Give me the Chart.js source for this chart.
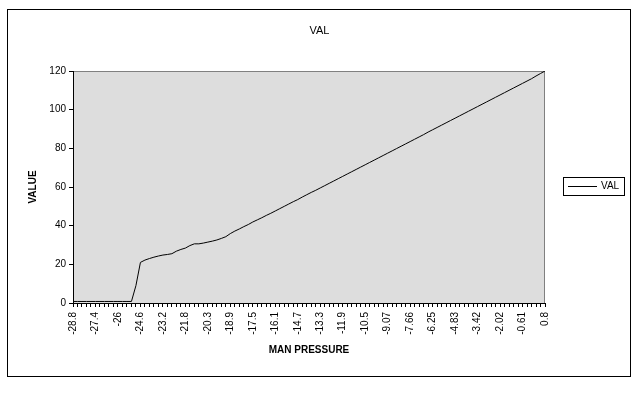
<!DOCTYPE html>
<html>
<head>
<meta charset="utf-8">
<script src="https://cdn.jsdelivr.net/npm/chart.js@4"></script>
<style>
  html, body { margin: 0; padding: 0; background: #fff; }
  #wrap { width: 639px; height: 395px; }
</style>
</head>
<body>
<div id="wrap"><canvas id="chart" width="639" height="395"></canvas></div>
<script>
// tick labels shown on the category axis (one every 5 categories)
var pressureLabels = ["-28.8","-27.4","-26","-24.6","-23.2","-21.8","-20.3","-18.9","-17.5","-16.1","-14.7",
  "-13.3","-11.9","-10.5","-9.07","-7.66","-6.25","-4.83","-3.42","-2.02","-0.61","0.8"];
var labelEvery = 5;

var valSeries = [
  0.8,0.8,0.8,0.8,0.8,0.8,0.8,0.8,0.8,0.8,0.8,0.8,0.8,0.8,
  9,21,22.2,23,23.7,24.3,24.8,25.1,25.5,26.8,
  27.7,28.4,29.7,30.6,30.6,31.0,31.5,32.0,32.6,33.4,
  34.3,35.9,37.2,38.3,39.5,40.6,41.9,43.0,44.1,45.3,
  46.4,47.6,48.8,50.0,51.2,52.4,53.5,54.8,56.0,57.2,
  58.3,59.5,60.7,61.9,63.1,64.3,65.5,66.7,67.9,69.1,
  70.3,71.5,72.7,73.9,75.1,76.3,77.5,78.7,79.9,81.1,
  82.3,83.5,84.7,85.9,87.1,88.4,89.6,90.8,92.0,93.2,
  94.4,95.6,96.8,98.0,99.2,100.4,101.6,102.8,104.0,105.2,
  106.4,107.6,108.8,110.0,111.2,112.4,113.6,114.8,116.0,117.4,
  118.7,120
];

var yTicks = [0, 20, 40, 60, 80, 100, 120];

// full category list: visible label, then blanks between
var cats = [];
pressureLabels.forEach(function(l, i){
  cats.push(l);
  if (i < pressureLabels.length - 1) {
    for (var k = 1; k < labelEvery; k++) cats.push("");
  }
});

var FONT = "'Liberation Sans', Arial, sans-serif";

const frame = {
  id: "frame",
  beforeDraw(chart){
    const c = chart.ctx, a = chart.chartArea;
    c.save();
    c.fillStyle = "#fff";
    c.fillRect(0, 0, chart.width, chart.height);
    c.strokeStyle = "#000";
    c.lineWidth = 1;
    c.strokeRect(7.5, 9.5, 623, 367);
    c.fillStyle = "#dddddd";
    c.fillRect(a.left, a.top, a.right - a.left, a.bottom - a.top);
    c.strokeStyle = "#808080";
    c.beginPath();
    c.moveTo(a.left, a.top + 0.5);
    c.lineTo(a.right - 0.5, a.top + 0.5);
    c.lineTo(a.right - 0.5, a.bottom);
    c.stroke();
    c.restore();
  },
  afterDraw(chart){
    // legend box on the right
    const c = chart.ctx, ds = chart.data.datasets[0];
    c.save();
    c.fillStyle = "#fff";
    c.fillRect(563, 177, 61, 18);
    c.strokeStyle = "#000";
    c.lineWidth = 1;
    c.strokeRect(563.5, 177.5, 61, 18);
    c.strokeStyle = ds.borderColor;
    c.beginPath();
    c.moveTo(568, 186.5);
    c.lineTo(597, 186.5);
    c.stroke();
    c.fillStyle = "#000";
    c.font = "10px " + FONT;
    c.textBaseline = "middle";
    c.fillText(ds.label, 601, 186.5);
    c.restore();
  }
};

new Chart("chart", {
  type: "line",
  data: {
    labels: cats,
    datasets: [{
      label: "VAL",
      data: valSeries,
      borderColor: "#000",
      borderWidth: 1,
      fill: false,
      tension: 0,
      pointRadius: 0
    }]
  },
  options: {
    responsive: false,
    animation: false,
    layout: { padding: 0 },
    plugins: {
      legend: { display: false },
      tooltip: { enabled: false },
      title: {
        display: true,
        text: "VAL",
        color: "#000",
        font: { family: FONT, size: 11, weight: "normal" },
        padding: { top: 24, bottom: 33.8 }
      }
    },
    scales: {
      x: {
        type: "category",
        offset: false,
        grid: { drawOnChartArea: false, drawTicks: true, tickLength: 4, color: "#000" },
        border: { color: "#000" },
        ticks: {
          autoSkip: false, maxRotation: 90, minRotation: 90,
          color: "#000", padding: 5,
          font: { family: FONT, size: 10 }
        },
        title: {
          display: true, text: "MAN PRESSURE", color: "#000",
          font: { family: FONT, size: 10, weight: "bold" },
          padding: { top: 0, bottom: 39 }
        },
        afterFit: function(s){ s.height = 92; }
      },
      y: {
        min: 0, max: 120,
        grid: { drawOnChartArea: false, drawTicks: true, tickLength: 4, color: "#000" },
        border: { color: "#000" },
        afterBuildTicks: function(s){ s.ticks = yTicks.map(function(v){ return { value: v }; }); },
        ticks: {
          color: "#000", padding: 3,
          font: { family: FONT, size: 10 }
        },
        title: {
          display: true, text: "VALUE", color: "#000",
          font: { family: FONT, size: 10, weight: "bold" },
          padding: { top: 27, bottom: 0 }
        },
        afterFit: function(s){ s.width = 73; }
      },
      // empty right-hand strip that keeps room for the legend
      legendRoom: {
        type: "linear", position: "right", min: 0, max: 1,
        grid: { display: false }, border: { display: false },
        ticks: { display: false },
        afterFit: function(s){ s.width = 94; }
      }
    }
  },
  plugins: [frame]
});
</script>
</body>
</html>
